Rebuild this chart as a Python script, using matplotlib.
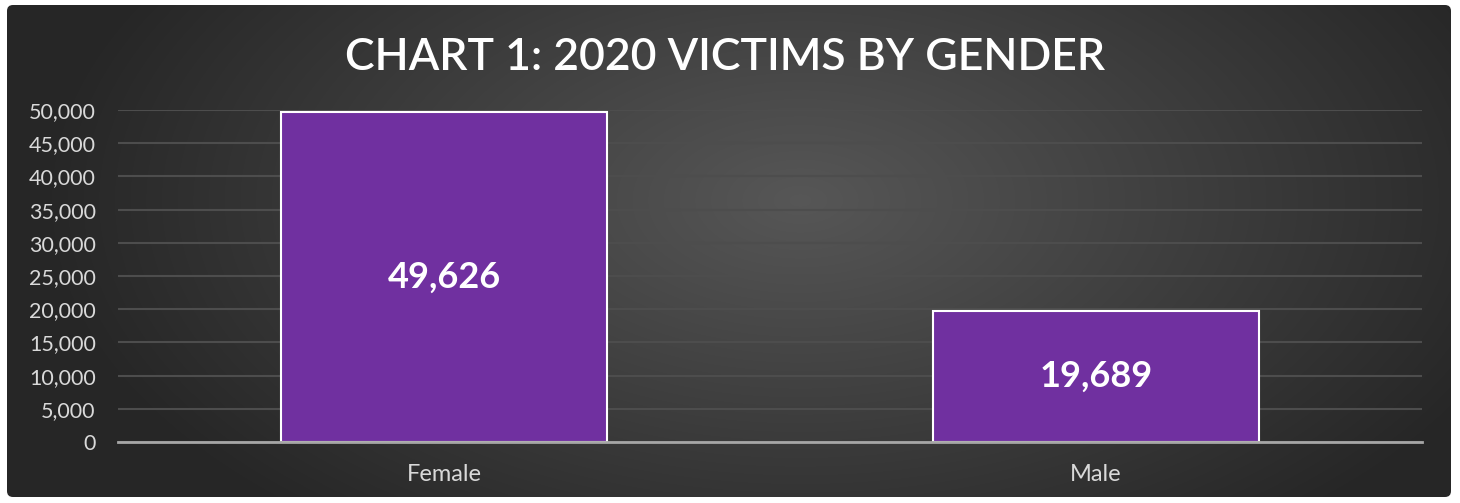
import numpy as np
import matplotlib
matplotlib.use('Agg')
import matplotlib.pyplot as plt
from matplotlib.patches import FancyBboxPatch
from matplotlib.ticker import FuncFormatter

categories = ['Female', 'Male']
victims = [49626, 19689]
y_ticks = list(range(0, 50001, 5000))

plt.rcParams['font.family'] = ['Lato', 'DejaVu Sans']

W, H = 1460, 503
fig = plt.figure(figsize=(W / 100, H / 100), dpi=100)
fig.patch.set_facecolor('white')

# background panel with a radial gradient
bg = fig.add_axes([0, 0, 1, 1])
bg.set_xlim(0, W)
bg.set_ylim(H, 0)
bg.axis('off')
yy, xx = np.mgrid[0:H, 0:W]
r = np.sqrt(((xx - 800) / 760.0) ** 2 + ((yy - 200) / 420.0) ** 2)
shade = np.clip(0.34 - 0.19 * r, 0.15, 0.34)
img = np.dstack([shade, shade, shade])
panel = FancyBboxPatch((7, 5), 1444, 492, boxstyle='round,pad=0,rounding_size=6',
                       facecolor='none', edgecolor='none')
bg.add_patch(panel)
im = bg.imshow(img, extent=(0, W, H, 0), aspect='auto')
im.set_clip_path(panel)

ax = fig.add_axes([118 / W, (H - 442) / H, (1422 - 118) / W, 332 / H])
ax.set_facecolor('none')
x = np.arange(len(categories))
bars = ax.bar(x, victims, width=0.5, color='#7030A0', edgecolor='white', linewidth=1.5, zorder=3)
ax.set_xlim(-0.5, len(categories) - 0.5)
ax.set_ylim(0, 50000)
ax.set_yticks(y_ticks)
ax.yaxis.set_major_formatter(FuncFormatter(lambda v, p: '{:,.0f}'.format(v)))
ax.set_xticks(x)
ax.set_xticklabels(categories)
ax.tick_params(axis='both', length=0, colors='#d9d9d9')
ax.tick_params(axis='y', pad=16, labelsize=15.5)
ax.tick_params(axis='x', pad=16, labelsize=17)
ax.grid(axis='y', color='#4d4d4d', linewidth=1.5, zorder=0)
for s in ['top', 'right', 'left']:
  ax.spines[s].set_visible(False)
ax.spines['bottom'].set_color('#a6a6a6')
ax.spines['bottom'].set_linewidth(2)
ax.spines['bottom'].set_zorder(4)

for b, v in zip(bars, victims):
  ax.text(b.get_x() + b.get_width() / 2, v / 2, '{:,}'.format(v), ha='center', va='center',
          color='white', fontsize=26, fontweight='bold', zorder=5)

fig.text(725 / W, 1 - 58 / H, 'CHART 1: 2020 VICTIMS BY GENDER', ha='center', va='center',
         color='white', fontsize=32, fontweight='semibold')

fig.savefig('out.png', dpi=100, facecolor=fig.get_facecolor())
